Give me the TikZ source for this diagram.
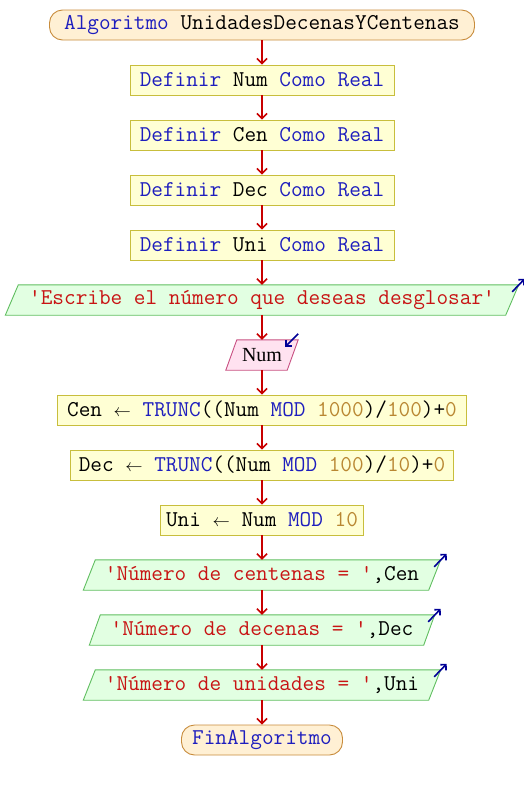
\documentclass[tikz,border=0pt]{standalone}
\usepackage{fontspec}
\setmainfont{Liberation Serif}
\usetikzlibrary{arrows.meta,backgrounds}
\definecolor{termF}{RGB}{255,240,212}
\definecolor{termB}{RGB}{200,140,60}
\definecolor{procF}{RGB}{255,255,212}
\definecolor{procB}{RGB}{200,190,60}
\definecolor{outF}{RGB}{226,255,226}
\definecolor{outB}{RGB}{96,190,96}
\definecolor{inF}{RGB}{255,226,240}
\definecolor{inB}{RGB}{200,80,130}
\definecolor{flowC}{RGB}{200,0,0}
\definecolor{navyC}{RGB}{0,0,150}
\definecolor{kwC}{RGB}{30,30,190}
\definecolor{strC}{RGB}{200,20,20}
\definecolor{numC}{RGB}{185,135,50}
\newcommand\kwd[1]{{\color{kwC}#1}}
\newcommand\strg[1]{{\color{strC}#1}}
\newcommand\numb[1]{{\color{numC}#1}}
\newcommand\qq{\textquotesingle}
\newcommand\larr{{\fontsize{18}{20}\selectfont$\leftarrow$}}
\newcommand\ioshape[4]{%
  \begin{scope}[on background layer]
    \draw[line width=0.9pt,draw=#4,fill=#3]
      ([xshift=#2]#1.north west) -- ([xshift=#2]#1.north east) --
      ([xshift=-#2]#1.south east) -- ([xshift=-#2]#1.south west) -- cycle;
  \end{scope}}
\tikzset{
  base/.style={font=\ttfamily\fontsize{22.6}{24}\selectfont, minimum height=30pt, inner sep=0pt, anchor=center},
  term/.style={base, draw=termB, fill=termF, rounded corners=13pt, line width=0.9pt},
  proc/.style={base, draw=procB, fill=procF, line width=0.9pt},
  io/.style={base},
  flow/.style={draw=flowC, line width=1.6pt, -{Straight Barb[length=5pt,width=10pt]}},
  ioarrow/.style={draw=navyC, line width=1.6pt, -{Straight Barb[length=4pt,width=8pt]}},
}
\begin{document}
\begin{tikzpicture}[x=1pt,y=-1pt]
\useasboundingbox (0,0) rectangle (524,790);
\node[term, minimum width=425pt] (start) at (262,25) {\kwd{Algoritmo} UnidadesDecenasYCentenas};
\node[proc, minimum width=264pt] (d1) at (262,80) {\kwd{Definir} Num \kwd{Como} \kwd{Real}};
\node[proc, minimum width=264pt] (d2) at (262,135) {\kwd{Definir} Cen \kwd{Como} \kwd{Real}};
\node[proc, minimum width=264pt] (d3) at (262,190) {\kwd{Definir} Dec \kwd{Como} \kwd{Real}};
\node[proc, minimum width=264pt] (d4) at (262,245) {\kwd{Definir} Uni \kwd{Como} \kwd{Real}};
\node[io, minimum width=500pt] (o1) at (262,300) {\strg{\qq Escribe el número que deseas desglosar\qq}};
\ioshape{o1}{6.5pt}{outF}{outB}
\node[io, minimum width=61pt, font=\rmfamily\fontsize{20}{22}\selectfont] (in1) at (262,355) {Num};
\ioshape{in1}{5.5pt}{inF}{inB}
\node[proc, minimum width=409pt] (a1) at (262,410) {Cen \larr{} \kwd{TRUNC}((Num \kwd{MOD} \numb{1000})/\numb{100})+\numb{0}};
\node[proc, minimum width=383pt] (a2) at (262,465) {Dec \larr{} \kwd{TRUNC}((Num \kwd{MOD} \numb{100})/\numb{10})+\numb{0}};
\node[proc, minimum width=203pt] (a3) at (262,520) {Uni \larr{} Num \kwd{MOD} \numb{10}};
\node[io, minimum width=345pt] (o2) at (262,575) {\strg{\qq Número de centenas = \qq},Cen};
\ioshape{o2}{6pt}{outF}{outB}
\node[io, minimum width=334pt] (o3) at (262,630) {\strg{\qq Número de decenas = \qq},Dec};
\ioshape{o3}{5.5pt}{outF}{outB}
\node[io, minimum width=345pt] (o4) at (262,685) {\strg{\qq Número de unidades = \qq},Uni};
\ioshape{o4}{6pt}{outF}{outB}
\node[term, minimum width=161pt] (end) at (262,740) {\kwd{FinAlgoritmo}};
% flow arrows
\draw[flow] (start) -- (d1);
\draw[flow] (d1) -- (d2);
\draw[flow] (d2) -- (d3);
\draw[flow] (d3) -- (d4);
\draw[flow] (d4) -- (o1);
\draw[flow] (o1) -- (in1);
\draw[flow] (in1) -- (a1);
\draw[flow] (a1) -- (a2);
\draw[flow] (a2) -- (a3);
\draw[flow] (a3) -- (o2);
\draw[flow] (o2) -- (o3);
\draw[flow] (o3) -- (o4);
\draw[flow] (o4) -- (end);
% io markers
\draw[ioarrow] ([xshift=0pt,yshift=-7pt]o1.north east) -- ([xshift=12.5pt,yshift=6pt]o1.north east);
\draw[ioarrow] ([xshift=5.5pt,yshift=6pt]in1.north east) -- ([xshift=-7.5pt,yshift=-7pt]in1.north east);
\draw[ioarrow] ([xshift=-0.5pt,yshift=-7pt]o2.north east) -- ([xshift=12pt,yshift=6pt]o2.north east);
\draw[ioarrow] ([xshift=-1pt,yshift=-7pt]o3.north east) -- ([xshift=11.5pt,yshift=6pt]o3.north east);
\draw[ioarrow] ([xshift=-0.5pt,yshift=-7pt]o4.north east) -- ([xshift=12pt,yshift=6pt]o4.north east);
\end{tikzpicture}
\end{document}
